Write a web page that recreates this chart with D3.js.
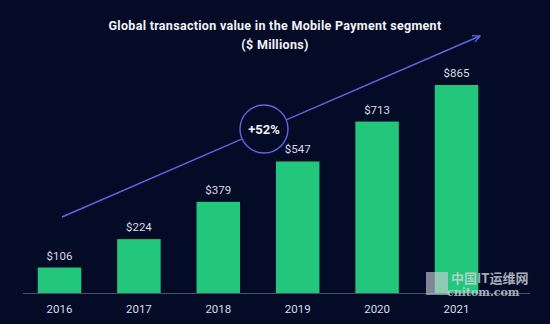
<!DOCTYPE html>
<html>
<head>
<meta charset="utf-8">
<script src="https://cdn.jsdelivr.net/npm/d3@7"></script>
<style>
html,body{margin:0;padding:0;background:#040b26;}
svg{display:block;}
</style>
</head>
<body>
<svg id="chart" width="550" height="324"></svg>
<script>
const years = ["2016","2017","2018","2019","2020","2021"];
const values = [106, 224, 379, 547, 713, 865];
const valueLabels = ["$106","$224","$379","$547","$713","$865"];
const titleLines = ["Global transaction value in the Mobile Payment segment", "($ Millions)"];
const growthLabel = "+52%";

const W = 550, H = 324;
const svg = d3.select("#chart");
svg.append("rect").attr("width", W).attr("height", H).attr("fill", "#040b26");

const x = d3.scaleBand().domain(years).range([19.8, 496.2]).paddingInner(0.452).paddingOuter(0.226);
const y = d3.scaleLinear().domain([0, 865]).range([293, 85]);

const font = "Roboto, 'Noto Sans', sans-serif";

// title
svg.selectAll("text.title").data(titleLines).enter().append("text")
  .attr("class","title")
  .attr("x", 275).attr("y", (d,i) => 30 + i*19)
  .attr("text-anchor","middle")
  .attr("fill","#f2f3f7")
  .attr("font-family", font).attr("font-weight", 700).attr("font-size", 12.5)
  .attr("letter-spacing", 0.3)
  .text(d => d);

// trend arrow
const defs = svg.append("defs");
defs.append("marker").attr("id","arr").attr("viewBox","0 0 10 10")
  .attr("refX", 9).attr("refY", 5).attr("markerWidth", 9).attr("markerHeight", 9)
  .attr("orient","auto").attr("markerUnits","userSpaceOnUse")
  .append("path").attr("d","M1,1 L9,5 L1,9").attr("fill","none")
  .attr("stroke","#6264e0").attr("stroke-width",1.4);

const p0 = [62, 217], p1 = [480, 36];
const cx = 264, cy = 129, r = 24;
const dx = p1[0]-p0[0], dy = p1[1]-p0[1], len = Math.hypot(dx,dy);
const ux = dx/len, uy = dy/len;
const t = (cx-p0[0])*ux + (cy-p0[1])*uy;
const ax = p0[0]+ux*t, ay = p0[1]+uy*t;
const dist = Math.hypot(cx-ax, cy-ay);
const half = Math.sqrt(Math.max(0, r*r - dist*dist));
svg.append("line").attr("x1",p0[0]).attr("y1",p0[1])
  .attr("x2",ax-ux*half).attr("y2",ay-uy*half)
  .attr("stroke","#6264e0").attr("stroke-width",1.4);
svg.append("line").attr("x1",ax+ux*half).attr("y1",ay+uy*half)
  .attr("x2",p1[0]).attr("y2",p1[1])
  .attr("stroke","#6264e0").attr("stroke-width",1.4)
  .attr("marker-end","url(#arr)");
svg.append("circle").attr("cx",cx).attr("cy",cy).attr("r",r)
  .attr("fill","#040b26").attr("stroke","#6264e0").attr("stroke-width",1.4);
svg.append("text").attr("x",cx).attr("y",cy+4.5).attr("text-anchor","middle")
  .attr("fill","#f2f3f7").attr("font-family",font).attr("font-weight",700)
  .attr("font-size",13).text(growthLabel);

// bars
svg.selectAll("rect.bar").data(values).enter().append("rect")
  .attr("class","bar")
  .attr("x",(d,i)=>x(years[i])).attr("width",x.bandwidth())
  .attr("y",d=>y(d)).attr("height",d=>y(0)-y(d))
  .attr("fill","#23c77b");

// value labels
svg.selectAll("text.val").data(values).enter().append("text")
  .attr("class","val")
  .attr("x",(d,i)=>x(years[i])+x.bandwidth()/2)
  .attr("y",d=>y(d)-8)
  .attr("text-anchor","middle")
  .attr("fill","#d9dce6").attr("font-family",font).attr("font-size",11.5)
  .text((d,i)=>valueLabels[i]);

// axis
const axis = d3.axisBottom(x).tickSize(0).tickPadding(12);
const g = svg.append("g").attr("transform","translate(0,293)").call(axis);
g.select(".domain").attr("stroke","#4a5066").attr("stroke-width",1)
  .attr("d","M23,0.5H530");
g.selectAll("text").attr("fill","#d9dce6").attr("font-family",font).attr("font-size",11.5);

// watermark
const wm = svg.append("g").attr("opacity",0.8);
wm.append("rect").attr("x",426).attr("y",272).attr("width",22).attr("height",23).attr("fill","#c8ccd4").attr("opacity",0.8);
wm.append("text").attr("x",451).attr("y",283).attr("fill","#d0d4dc")
  .attr("font-family","'Noto Sans CJK SC', sans-serif").attr("font-weight",700).attr("font-size",13)
  .text("中国IT运维网");
wm.append("text").attr("x",447).attr("y",296).attr("fill","#d0d4dc")
  .attr("font-family","'DejaVu Serif', serif").attr("font-weight",700).attr("font-size",11)
  .text("cnitom.com");
</script>
</body>
</html>
